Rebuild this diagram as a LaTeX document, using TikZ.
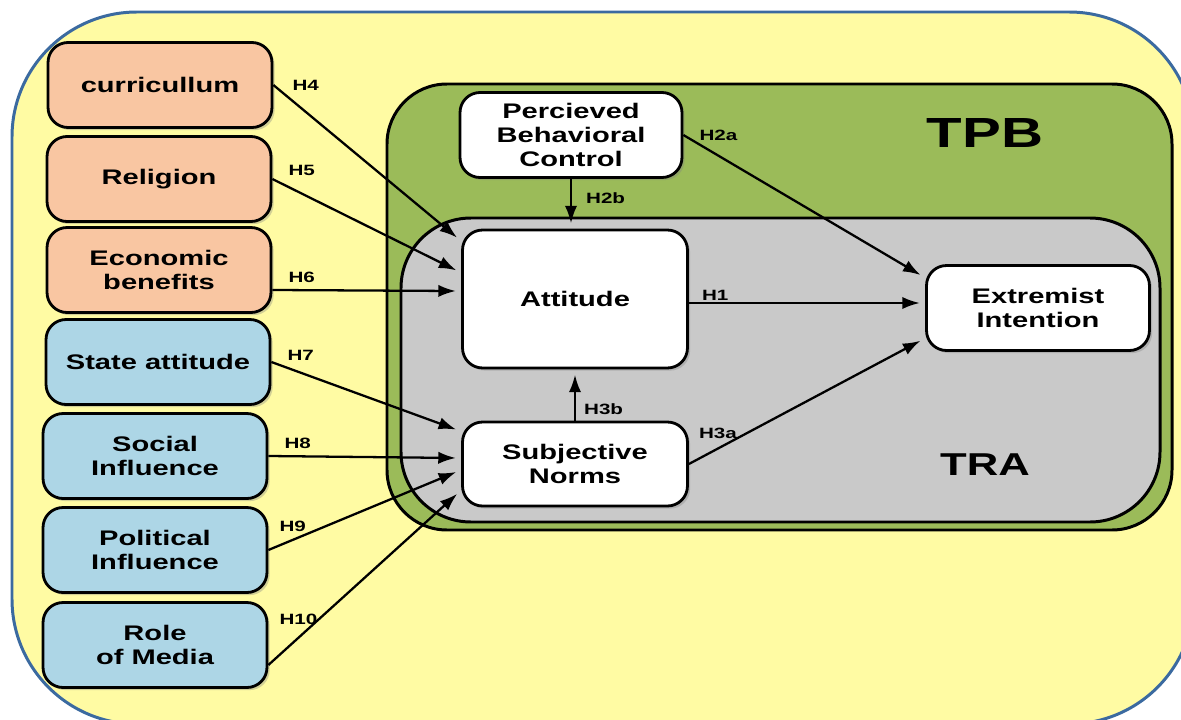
\documentclass[tikz,border=0pt]{standalone}
\usepackage{fontspec}
\setmainfont{Liberation Sans}[FakeStretch=1.38]
\usetikzlibrary{arrows.meta,shadows}

\definecolor{bgyellow}{HTML}{FFFBA3}
\definecolor{bgblue}{HTML}{3B6AA0}
\definecolor{tpbgreen}{HTML}{9BBB59}
\definecolor{tragray}{HTML}{C9C9C9}
\definecolor{peach}{HTML}{F9C6A2}
\definecolor{skyblue}{HTML}{ADD6E6}

\begin{document}
\begin{tikzpicture}[x=0.02cm,y=-0.02cm,>={Latex[length=10pt,width=7pt]},
    box/.style={draw,line width=1.6pt,rounded corners=0.4cm,align=center,
      inner sep=0pt,minimum width=4.48cm,minimum height=1.7cm,
      font=\bfseries\fontsize{12}{13.5}\selectfont,
      drop shadow={shadow xshift=1.5pt,shadow yshift=-1.5pt,opacity=0.35}},
    factor/.style={box,fill=peach},
    social/.style={box,fill=skyblue},
    core/.style={box,fill=white},
    lbl/.style={font=\bfseries\fontsize{8.5}{10}\selectfont,inner sep=0pt},
    theory/.style={font=\bfseries\fontsize{24}{28}\selectfont}]
      \useasboundingbox (0,0) rectangle (1181,720);

      % frames
      \draw[bgblue,fill=bgyellow,line width=1.7pt,rounded corners=2.5cm] (12,12) rectangle (1194,724);
      \draw[fill=tpbgreen,line width=1.7pt,rounded corners=1.2cm] (387,84) rectangle (1172,530);
      \draw[fill=tragray,line width=1.7pt,rounded corners=1.4cm] (401,218) rectangle (1160,522);

      \node[theory] (tpb) at (985,133) {TPB};
      \node[theory,font=\bfseries\fontsize{18}{22}\selectfont] (tra) at (985,465) {TRA};

      % external factors
      \node[factor] (cur) at (160,85) {curricullum};
      \node[factor] (rel) at (159,179) {Religion};
      \node[factor] (eco) at (159,270) {Economic\\benefits};
      \node[social] (sta) at (158,362) {State attitude};
      \node[social] (soc) at (155,456) {Social\\Influence};
      \node[social] (pol) at (155,550) {Political\\Influence};
      \node[social] (med) at (155,645) {Role\\of Media};

      % model
      \node[core,minimum width=4.44cm] (pbc) at (571,135) {Percieved\\Behavioral\\Control};
      \node[core,minimum width=4.5cm,minimum height=2.76cm] (att) at (575,299) {Attitude};
      \node[core,minimum width=4.5cm,minimum height=1.68cm] (sub) at (575,464) {Subjective\\Norms};
      \node[core,minimum width=4.46cm] (ext) at (1038,308) {Extremist\\Intention};

      \path[->,line width=1.3pt,shorten >=3pt]
      (cur.east) edge node[lbl,pos=0,anchor=west,xshift=0.36cm] {H4} (att.153)
      (rel.east) edge node[lbl,pos=0,anchor=south west,xshift=0.3cm,yshift=0.04cm] {H5} (att.167)
      ([yshift=-0.4cm]eco.east) edge node[lbl,pos=0,anchor=south west,xshift=0.3cm,yshift=0.12cm] {H6} (att.176)

      (sta.east) edge node[lbl,pos=0,anchor=west,xshift=0.3cm,yshift=0.14cm] {H7} (sub.164)
      (soc.east) edge node[lbl,pos=0,anchor=south west,xshift=0.3cm,yshift=0.12cm] {H8} (sub.177)
      (pol.east) edge node[lbl,pos=0,anchor=south west,xshift=0.2cm,yshift=0.34cm] {H9} (sub.183)
      ([yshift=-0.4cm]med.east) edge node[lbl,pos=0,anchor=south west,xshift=0.2cm,yshift=0.78cm] {H10} (sub.193)

      (pbc.south) edge node[lbl,pos=0,anchor=north west,xshift=0.28cm,yshift=-0.26cm] {H2b} (pbc.south |- att.north)
      (pbc.east) edge node[lbl,pos=0,anchor=west,xshift=0.3cm] {H2a} (ext.165)
      ([yshift=-0.08cm]att.east) edge node[lbl,pos=0,anchor=south west,xshift=0.24cm,yshift=0.02cm] {H1} ([yshift=-0.08cm]att.east -| ext.west)
      (sub.north) edge node[lbl,pos=0,anchor=south west,xshift=0.16cm,yshift=0.1cm] {H3b} (sub.north |- att.south)
      (sub.east) edge node[lbl,pos=0,anchor=south west,xshift=0.18cm,yshift=0.48cm] {H3a} (ext.195)
      ;
    \end{tikzpicture}
\end{document}
